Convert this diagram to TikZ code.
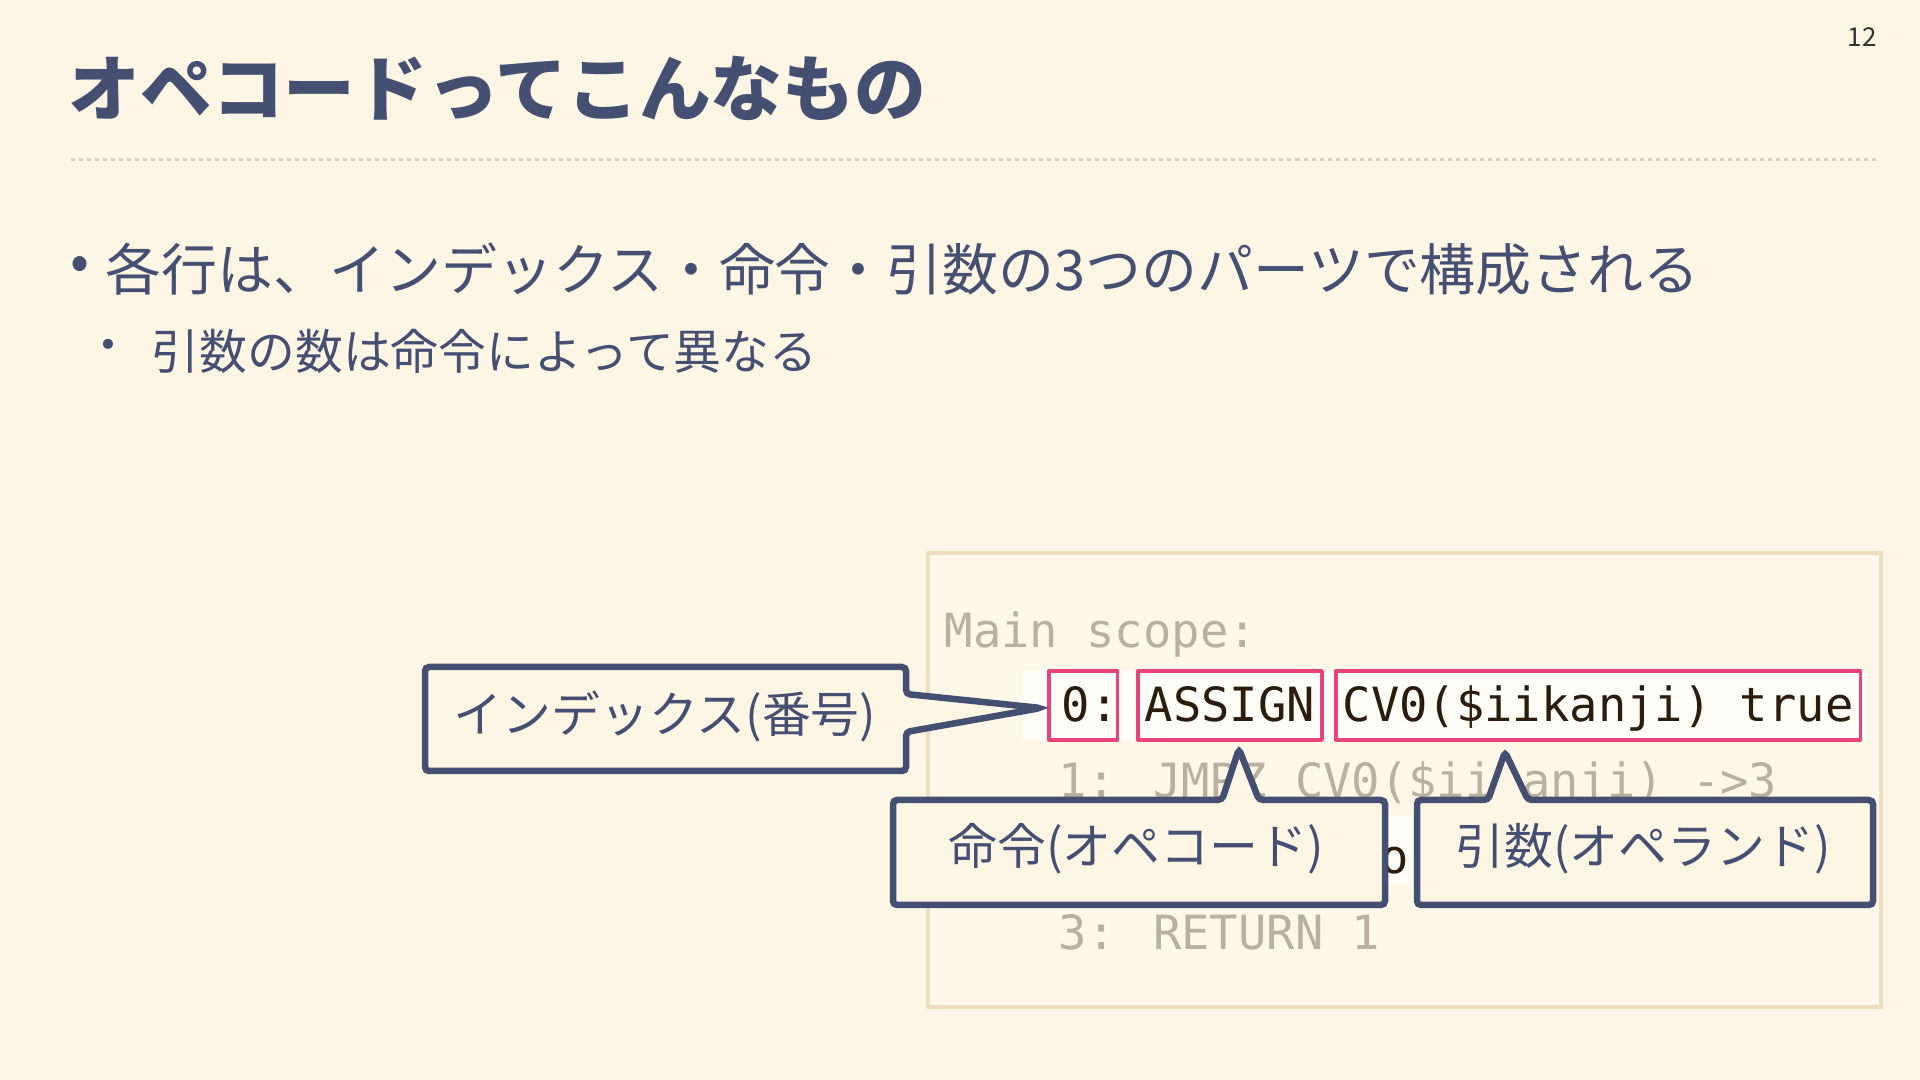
\documentclass[tikz,border=0pt]{standalone}
\usepackage{fontspec}
\newfontfamily\jp{Noto Sans CJK JP}
\newfontfamily\mono{DejaVu Sans Mono}

\definecolor{bgcream}{RGB}{254,246,228}
\definecolor{codebg}{RGB}{255,247,231}
\definecolor{hilite}{RGB}{255,253,248}
\definecolor{inkblue}{RGB}{69,79,114}
\definecolor{boxtan}{RGB}{236,222,190}
\definecolor{codegray}{RGB}{186,176,160}
\definecolor{codedark}{RGB}{43,28,14}
\definecolor{markpink}{RGB}{234,66,122}
\definecolor{rulegray}{RGB}{214,209,198}
\definecolor{pagegray}{RGB}{50,50,50}

\begin{document}
\begin{tikzpicture}[x=0.01cm, y=-0.01cm, line join=round]

	% Kiểu chữ và khung dùng chung
	\tikzset{
		titletext/.style={anchor=west, inner sep=0, text=inkblue, font=\jp\bfseries\fontsize{20.4pt}{24pt}\selectfont},
		bodytext/.style={anchor=west, inner sep=0, text=inkblue, font=\jp\fontsize{15.9pt}{19pt}\selectfont},
		subtext/.style={anchor=west, inner sep=0, text=inkblue, font=\jp\fontsize{13.6pt}{16pt}\selectfont},
		codeline/.style={anchor=base west, inner sep=0, font=\mono\fontsize{13.4pt}{16pt}\selectfont},
		markbox/.style={codeline, draw=markpink, line width=0.035cm, inner xsep=0.07cm, inner ysep=0.06cm, text height=0.45cm, text depth=0.12cm},
		calloutline/.style={draw=inkblue, fill=bgcream, line width=0.065cm, line join=miter, rounded corners=0.04cm},
		callouttext/.style={inner sep=0, text=inkblue, font=\jp\fontsize{13.9pt}{16pt}\selectfont}
	}

	% ----------------------------------------------------
	% NỀN VÀ TIÊU ĐỀ
	% ----------------------------------------------------
	\fill[bgcream] (0,0) rectangle (1920,1080);
	\useasboundingbox (0,0) rectangle (1920,1080);

	\node[titletext] (title) at (68,88) {オペコードってこんなもの};
	\draw[rulegray, line width=0.03cm, dash pattern=on 0.04cm off 0.04cm] (71,160) -- (1876,160); % Đường chấm dưới tiêu đề
	\node[font=\jp\fontsize{7.4pt}{9pt}\selectfont, text=pagegray, inner sep=0] (pagenum) at (1862,37) {12};

	% Các dòng gạch đầu dòng
	\node[bodytext, anchor=center] (dotA) at (80,269) {•};
	\node[bodytext] (itemA) at (105,269) {各行は、インデックス・命令・引数の3つのパーツで構成される};
	\node[subtext, anchor=center] (dotB) at (108,351) {・};
	\node[subtext] (itemB) at (151,351) {引数の数は命令によって異なる};

	% ----------------------------------------------------
	% KHUNG MÃ
	% ----------------------------------------------------
	\draw[boxtan, line width=0.045cm, fill=codebg] (928,553) rectangle (1881,1007);

	\node[codeline, text=codegray] (mainscope) at (944,648) {Main scope:};

	\fill[hilite] (1022,671) rectangle (1867,740); % Dòng 0 được tô sáng
	\fill[hilite] (1022,816) rectangle (1412,885); % Dòng 2 được tô sáng

	\node[markbox, inner xsep=0, text=codedark] (idx) at (1047,722) {\kern0.13cm 0:\kern-0.01cm};
	\node[markbox, text=codedark] (op) at (1136,722) {ASSIGN};
	\node[markbox, text=codedark] (args) at (1334,722) {CV0(\$iikanji) true};

	\node[codeline, text=codegray] (lineone) at (1058,798) {1: JMPZ CV0(\$iikanji) ->3};
	\node[codeline, text=codedark] (linetwo) at (1058,874) {2: ECHO \$foo};
	\node[codeline, text=codegray] (linethree) at (1058,950) {3: RETURN 1};

	% ----------------------------------------------------
	% CÁC KHUNG CHÚ THÍCH
	% ----------------------------------------------------
	\coordinate (tipA) at (1041,708); % Mũi chỉ vào chỉ số
	\coordinate (tipB) at (1239,749); % Mũi chỉ vào lệnh
	\coordinate (tipC) at (1505,752); % Mũi chỉ vào đối số

	\path[calloutline] (425,667) -- (906,667) -- (906,694) -- (tipA) -- (906,732) -- (906,771) -- (425,771) -- cycle;
	\path[calloutline] (893,800) -- (1222,800) -- (tipB) -- (1259,800) -- (1385,800) -- (1385,905) -- (893,905) -- cycle;
	\path[calloutline] (1417,800) -- (1488,800) -- (tipC) -- (1528,800) -- (1873,800) -- (1873,905) -- (1417,905) -- cycle;

	\node[callouttext] (idxlabel) at (665,716) {インデックス(番号)};
	\node[callouttext] (oplabel) at (1136,849) {命令(オペコード)};
	\node[callouttext] (argslabel) at (1643,849) {引数(オペランド)};

\end{tikzpicture}
\end{document}
